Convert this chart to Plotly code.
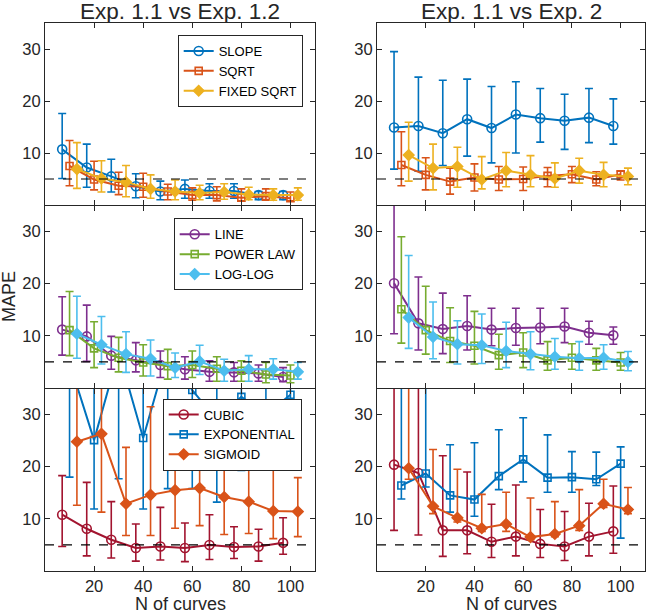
import plotly.graph_objects as go
from plotly.subplots import make_subplots

# ---------------- data ----------------
X_A = [7, 17, 27, 37, 47, 57, 67, 77, 87, 97]
X_B = [10, 20, 30, 40, 50, 60, 70, 80, 90, 100]
X_C = [13, 23, 33, 43, 53, 63, 73, 83, 93, 103]
THRESHOLD = 5
X_TICKS = [20, 40, 60, 80, 100]
Y_TICKS = [10, 20, 30]

# Exp 1.1 vs Exp 1.2  -- row 1
slope_m = [10.7, 7.2, 5.5, 3.6, 2.6, 3.1, 2.7, 2.7, 1.9, 1.9]
slope_hi = [17.6, 11.7, 8.8, 6.0, 4.6, 4.8, 4.1, 4.1, 2.6, 2.6]
slope_lo = [5.1, 3.4, 2.5, 1.4, 1.0, 1.3, 1.3, 1.3, 1.0, 1.0]
sqrt_m = [7.5, 4.9, 3.7, 3.5, 2.6, 1.9, 1.9, 1.4, 1.7, 1.3]
sqrt_hi = [12.4, 8.4, 6.3, 6.1, 4.0, 3.3, 3.5, 3.1, 3.1, 2.5]
sqrt_lo = [3.7, 2.9, 2.0, 1.5, 1.0, 0.9, 0.8, 0.8, 0.9, 0.8]
fixed_m = [6.9, 5.1, 4.4, 3.1, 2.6, 2.3, 2.5, 2.0, 1.9, 1.9]
fixed_hi = [12.0, 8.5, 7.6, 5.8, 4.8, 3.8, 4.1, 3.4, 3.1, 3.3]
fixed_lo = [3.2, 2.5, 1.6, 1.3, 1.0, 1.0, 1.1, 1.0, 0.9, 0.9]

# Exp 1.1 vs Exp 2  -- row 1
slope2_m = [14.9, 15.2, 13.8, 16.5, 14.8, 17.4, 16.7, 16.2, 16.8, 15.2]
slope2_hi = [29.5, 24.6, 24.0, 24.2, 22.8, 23.7, 22.4, 21.3, 22.4, 20.4]
slope2_lo = [6.9, 6.5, 7.6, 9.4, 8.1, 10.0, 12.1, 10.7, 12.0, 11.7]
sqrt2_m = [7.7, 5.8, 4.5, 5.3, 4.9, 5.0, 5.6, 5.9, 4.9, 5.9]
sqrt2_hi = [14.1, 9.1, 7.1, 7.9, 7.4, 7.3, 7.2, 7.4, 6.4, 6.5]
sqrt2_lo = [3.7, 2.9, 2.1, 2.7, 2.8, 2.8, 3.5, 4.3, 3.7, 4.8]
fixed2_m = [9.6, 7.1, 7.4, 4.9, 6.6, 5.8, 5.1, 6.6, 5.8, 5.5]
fixed2_hi = [15.9, 11.7, 11.1, 9.3, 10.1, 9.5, 8.1, 9.0, 8.2, 7.1]
fixed2_lo = [4.6, 2.9, 3.4, 3.1, 3.5, 3.5, 3.4, 4.2, 3.5, 3.9]

# row 2
line_m = [11.2, 9.9, 6.2, 5.3, 4.4, 3.6, 3.1, 3.0, 2.8, 2.1]
line_hi = [17.5, 15.9, 9.9, 8.7, 7.1, 6.0, 5.2, 4.9, 4.4, 3.9]
line_lo = [6.3, 5.1, 3.6, 3.1, 2.0, 1.7, 1.3, 1.3, 1.3, 1.2]
power_m = [11.1, 7.6, 5.8, 4.9, 4.2, 4.4, 3.7, 3.3, 2.6, 2.4]
power_hi = [18.5, 12.7, 9.7, 8.3, 7.4, 7.1, 6.0, 5.2, 4.9, 4.4]
power_lo = [6.2, 3.9, 3.1, 2.3, 1.7, 2.0, 1.3, 1.3, 1.0, 1.0]
loglog_m = [10.4, 8.3, 6.5, 5.6, 3.9, 5.1, 3.3, 3.6, 3.6, 3.1]
loglog_hi = [17.6, 13.7, 10.8, 9.2, 6.7, 8.2, 5.5, 6.2, 5.6, 4.9]
loglog_lo = [5.7, 4.6, 3.0, 2.3, 2.0, 2.6, 1.3, 1.3, 1.7, 1.7]

line2_m = [20.1, 12.4, 11.3, 11.9, 11.2, 11.5, 11.6, 11.8, 10.6, 10.1]
line2_hi = [37.0, 21.3, 18.2, 17.7, 15.3, 15.3, 15.3, 15.3, 12.8, 11.7]
line2_lo = [10.4, 7.3, 6.6, 7.3, 8.1, 8.2, 8.5, 8.7, 8.4, 8.4]
power2_m = [15.1, 11.1, 9.0, 8.1, 6.3, 6.8, 5.3, 5.8, 5.3, 4.9]
power2_hi = [29.0, 19.5, 15.4, 14.7, 10.3, 10.6, 8.9, 8.5, 7.6, 6.8]
power2_lo = [8.6, 6.5, 4.9, 4.6, 3.6, 3.9, 3.4, 3.6, 3.4, 3.4]
loglog2_m = [13.5, 9.8, 8.4, 8.2, 7.1, 6.5, 6.0, 5.7, 5.8, 5.0]
loglog2_hi = [25.4, 16.5, 12.9, 14.2, 12.6, 10.8, 9.5, 8.9, 8.3, 7.0]
loglog2_lo = [7.6, 5.6, 4.6, 4.7, 3.9, 3.5, 3.6, 3.4, 3.6, 3.3]

# row 3
cubic_m = [10.8, 8.1, 6.0, 4.4, 4.7, 4.4, 5.0, 4.6, 4.7, 5.4]
cubic_hi = [18.3, 17.0, 13.3, 9.0, 12.2, 9.2, 10.8, 8.5, 8.0, 10.2]
cubic_lo = [4.7, 2.9, 2.5, 1.9, 2.1, 1.8, 2.2, 2.4, 1.9, 3.2]
expo_m = [40.0, 25.1, 42.0, 25.5, 42.0, 34.7, 29.0, 33.4, 30.0, 33.8]
expo_hi = [60.0, 45.0, 60.0, 45.0, 60.0, 55.0, 50.0, 50.0, 50.0, 50.0]
expo_lo = [18.0, 11.9, 17.7, 11.9, 15.8, 15.8, 13.2, 19.3, 22.0, 19.9]
sig_m = [24.8, 26.3, 12.9, 14.6, 15.5, 15.9, 14.2, 13.3, 11.5, 11.4]
sig_hi = [40.0, 40.0, 23.7, 31.5, 28.0, 29.0, 24.0, 23.0, 19.6, 17.9]
sig_lo = [12.6, 11.3, 6.8, 6.8, 8.2, 8.7, 7.0, 7.2, 6.2, 6.6]

cubic2_m = [20.4, 18.8, 7.8, 7.8, 5.6, 6.6, 5.2, 4.7, 6.6, 7.6]
cubic2_hi = [40.0, 40.0, 22.1, 19.0, 12.8, 16.5, 11.8, 11.4, 13.0, 16.3]
cubic2_lo = [7.8, 6.9, 2.8, 3.3, 2.6, 2.9, 2.6, 2.0, 2.9, 3.4]
expo2_m = [16.4, 18.7, 14.5, 13.7, 18.2, 21.4, 17.9, 18.0, 17.6, 20.6]
expo2_hi = [40.0, 40.0, 24.2, 24.6, 27.1, 29.4, 26.1, 22.9, 22.8, 23.8]
expo2_lo = [13.8, 16.1, 11.3, 10.5, 15.6, 17.1, 15.1, 15.1, 16.4, 6.3]
sig2_m = [19.7, 12.4, 10.2, 8.2, 9.0, 6.5, 7.1, 8.7, 12.9, 11.8]
sig2_hi = [40.0, 23.3, 19.5, 14.7, 15.1, 14.0, 13.3, 15.6, 17.6, 16.0]
sig2_lo = [17.6, 11.0, 9.4, 7.6, 7.6, 6.0, 6.6, 7.8, 12.2, 11.0]

TITLES = ["Exp. 1.1 vs Exp. 1.2", "Exp. 1.1 vs Exp. 2"]

# ---------------- styling ----------------
FONT = "Liberation Sans, Arial, Helvetica, sans-serif"
TXT = "#262626"
C_BLUE = "#0072BD"
C_ORANGE = "#D95319"
C_YELLOW = "#EDB120"
C_PURPLE = "#7E2F8E"
C_GREEN = "#77AC30"
C_CYAN = "#4DBEEE"
C_RED = "#A2142F"

W, H = 647, 615
COLS_PX = [(45, 315), (377, 645)]
ROWS_PX = [(23, 205), (205.5, 388), (388.5, 571)]

fig = make_subplots(rows=3, cols=2)


def add(row, col, x, m, lo, hi, name, color, symbol, legend, showlegend):
    plus = [h - v for h, v in zip(hi, m)]
    minus = [v - l for v, l in zip(m, lo)]
    size = {"circle-open": 9, "square-open": 7, "diamond": 8}[symbol]
    fig.add_trace(
        go.Scatter(
            x=x, y=m, name=name, mode="lines+markers",
            line=dict(color=color, width=2),
            marker=dict(symbol=symbol, size=size,
                        color=color, line=dict(color=color, width=1.6)),
            error_y=dict(type="data", symmetric=False, array=plus, arrayminus=minus,
                         color=color, thickness=1.6, width=4),
            legend=legend, showlegend=showlegend,
        ),
        row=row, col=col,
    )


panels = [
    (1, [("SLOPE", X_A, slope_m, slope_lo, slope_hi, C_BLUE, "circle-open"),
         ("SQRT", X_B, sqrt_m, sqrt_lo, sqrt_hi, C_ORANGE, "square-open"),
         ("FIXED SQRT", X_C, fixed_m, fixed_lo, fixed_hi, C_YELLOW, "diamond")],
        [("SLOPE", X_A, slope2_m, slope2_lo, slope2_hi, C_BLUE, "circle-open"),
         ("SQRT", X_B, sqrt2_m, sqrt2_lo, sqrt2_hi, C_ORANGE, "square-open"),
         ("FIXED SQRT", X_C, fixed2_m, fixed2_lo, fixed2_hi, C_YELLOW, "diamond")], "legend"),
    (2, [("LINE", X_A, line_m, line_lo, line_hi, C_PURPLE, "circle-open"),
         ("POWER LAW", X_B, power_m, power_lo, power_hi, C_GREEN, "square-open"),
         ("LOG-LOG", X_C, loglog_m, loglog_lo, loglog_hi, C_CYAN, "diamond")],
        [("LINE", X_A, line2_m, line2_lo, line2_hi, C_PURPLE, "circle-open"),
         ("POWER LAW", X_B, power2_m, power2_lo, power2_hi, C_GREEN, "square-open"),
         ("LOG-LOG", X_C, loglog2_m, loglog2_lo, loglog2_hi, C_CYAN, "diamond")], "legend2"),
    (3, [("CUBIC", X_A, cubic_m, cubic_lo, cubic_hi, C_RED, "circle-open"),
         ("EXPONENTIAL", X_B, expo_m, expo_lo, expo_hi, C_BLUE, "square-open"),
         ("SIGMOID", X_C, sig_m, sig_lo, sig_hi, C_ORANGE, "diamond")],
        [("CUBIC", X_A, cubic2_m, cubic2_lo, cubic2_hi, C_RED, "circle-open"),
         ("EXPONENTIAL", X_B, expo2_m, expo2_lo, expo2_hi, C_BLUE, "square-open"),
         ("SIGMOID", X_C, sig2_m, sig2_lo, sig2_hi, C_ORANGE, "diamond")], "legend3"),
]

for row, left, right, leg in panels:
    for name, x, m, lo, hi, c, s in left:
        add(row, 1, x, m, lo, hi, name, c, s, leg, True)
    for name, x, m, lo, hi, c, s in right:
        add(row, 2, x, m, lo, hi, name, c, s, leg, False)

# axes
for r in range(3):
    for c in range(2):
        idx = r * 2 + c + 1
        xa = "xaxis" if idx == 1 else f"xaxis{idx}"
        ya = "yaxis" if idx == 1 else f"yaxis{idx}"
        x0, x1 = COLS_PX[c]
        y0, y1 = ROWS_PX[r]
        common = dict(showline=True, linecolor=TXT, linewidth=1, mirror="allticks",
                      ticks="inside", ticklen=5, tickwidth=1, tickcolor=TXT,
                      showgrid=False, zeroline=False,
                      tickfont=dict(family=FONT, size=16.5, color=TXT))
        fig.layout[xa].update(domain=[x0 / W, x1 / W], range=[0, 110],
                              tickvals=X_TICKS, showticklabels=(r == 2), **common)
        fig.layout[ya].update(domain=[1 - y1 / H, 1 - y0 / H], range=[0, 35],
                              tickvals=Y_TICKS, **common)
        xr = "x" if idx == 1 else f"x{idx}"
        yr = "y" if idx == 1 else f"y{idx}"
        fig.add_shape(type="line", xref=f"{xr} domain", yref=yr, x0=0, x1=1,
                      y0=THRESHOLD, y1=THRESHOLD, line=dict(color="black", width=1.2, dash="dash"))

leg_common = dict(bgcolor="white", bordercolor=TXT, borderwidth=1,
                  font=dict(family=FONT, size=13, color="black"),
                  xanchor="right", yanchor="top", itemwidth=30, tracegroupgap=0)
fig.update_layout(
    legend=dict(x=302.7 / W, y=1 - 35 / H, **leg_common),
    legend2=dict(x=302.7 / W, y=1 - 218.3 / H, **leg_common),
    legend3=dict(x=301.7 / W, y=1 - 398.5 / H, **leg_common),
)

annotations = []
for c, t in enumerate(TITLES):
    x0, x1 = COLS_PX[c]
    annotations.append(dict(text=t, x=(x0 + x1) / 2 / W, y=1, xref="paper", yref="paper",
                            xanchor="center", yanchor="top", height=21, valign="middle",
                            borderpad=0, showarrow=False,
                            font=dict(family=FONT, size=22.5, color=TXT)))
    annotations.append(dict(text="N of curves", x=(x0 + x1) / 2 / W, y=1 - 604 / H,
                            xref="paper", yref="paper", xanchor="center", yanchor="middle",
                            showarrow=False, font=dict(family=FONT, size=18, color=TXT)))
annotations.append(dict(text="MAPE", x=9 / W, y=1 - 297 / H, xref="paper", yref="paper",
                        xanchor="center", yanchor="middle", textangle=-90, showarrow=False,
                        font=dict(family=FONT, size=18, color=TXT)))
fig.update_layout(annotations=annotations)

fig.update_layout(
    width=W, height=H, margin=dict(l=0, r=0, t=0, b=0),
    paper_bgcolor="white", plot_bgcolor="white",
    font=dict(family=FONT, color=TXT),
)

fig.write_html("out.html", config={"displayModeBar": False},
               post_script="document.body.style.margin='0';")
